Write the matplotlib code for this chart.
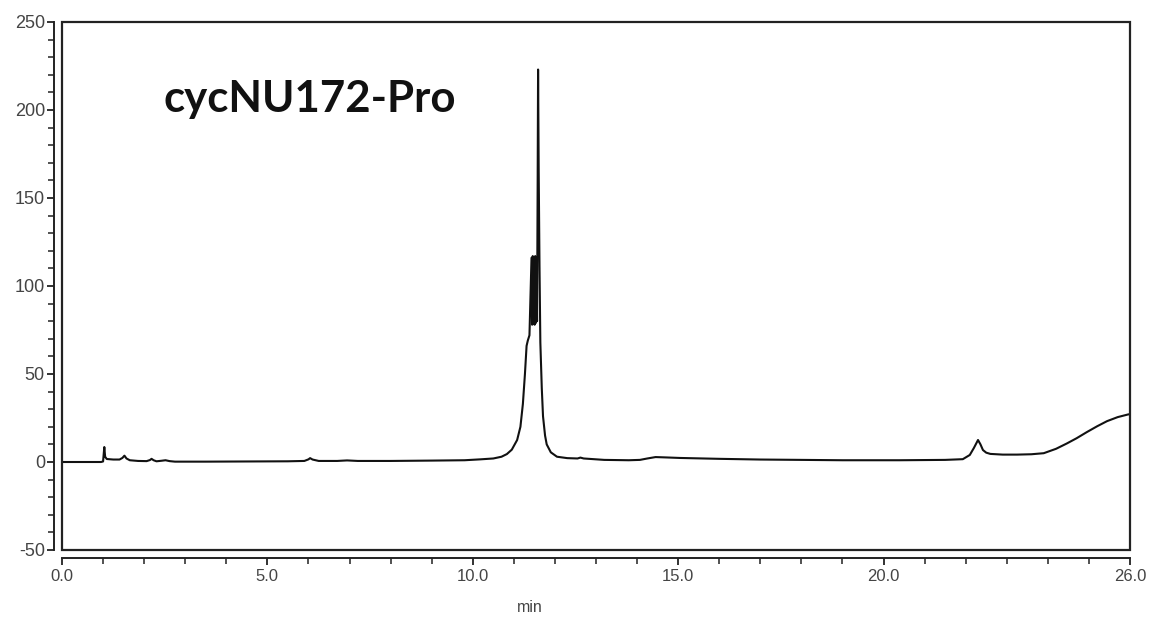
import matplotlib
matplotlib.use('Agg')
import matplotlib.pyplot as plt
from matplotlib.patches import Rectangle
from matplotlib.ticker import MultipleLocator

# retention time (min) and detector signal
time_min = [0.0, 0.95, 1.00, 1.03, 1.05, 1.09, 1.25, 1.40, 1.47, 1.52, 1.57, 1.65,
            1.85, 2.06, 2.14, 2.18, 2.23, 2.30, 2.42, 2.52, 2.62, 2.75, 3.5, 4.5,
            5.5, 5.90, 6.00, 6.04, 6.10, 6.25, 6.70, 6.94, 7.20, 8.0, 9.0, 9.8,
            10.18, 10.50, 10.70, 10.83, 10.95, 11.08, 11.16, 11.22, 11.27, 11.31,
            11.34, 11.38, 11.43, 11.445, 11.46, 11.475, 11.49, 11.505, 11.52, 11.535,
            11.55, 11.565, 11.58, 11.59, 11.605, 11.625, 11.645, 11.68, 11.71, 11.76,
            11.80, 11.90, 12.05, 12.30, 12.55, 12.62, 12.70, 13.2, 13.8, 14.07,
            14.25, 14.45, 14.70, 15.04, 16.0, 17.0, 18.0, 19.0, 20.4, 21.5, 21.93,
            22.10, 22.20, 22.30, 22.36, 22.42, 22.50, 22.60, 22.90, 23.25, 23.60,
            23.90, 24.20, 24.46, 24.70, 24.95, 25.20, 25.44, 25.70, 25.95, 26.0]
signal = [0.0, 0.0, 0.3, 8.5, 3.0, 1.7, 1.4, 1.4, 2.3, 3.6, 2.0, 1.0,
          0.6, 0.5, 1.1, 1.8, 1.0, 0.4, 0.7, 1.0, 0.5, 0.2, 0.2, 0.3,
          0.4, 0.6, 1.5, 2.2, 1.4, 0.6, 0.6, 0.9, 0.6, 0.6, 0.8, 1.0,
          1.5, 2.0, 3.0, 4.5, 7.0, 12.5, 20.0, 33.0, 50.0, 66.0,
          69.0, 72.0, 116.0, 78.0, 117.0, 79.0, 116.0, 78.0, 117.0, 79.0,
          116.0, 80.0, 160.0, 223.0, 165.0, 110.0, 68.0, 42.0, 26.0, 15.0,
          10.0, 5.5, 3.0, 2.2, 2.0, 2.5, 2.0, 1.2, 1.0, 1.2,
          2.0, 2.8, 2.6, 2.3, 1.8, 1.4, 1.2, 1.0, 1.0, 1.2, 1.6,
          4.0, 8.0, 12.5, 10.0, 6.8, 5.3, 4.6, 4.2, 4.2, 4.4,
          5.0, 7.5, 10.5, 13.5, 17.0, 20.3, 23.2, 25.5, 27.0, 27.2]

x_major = [0, 5, 10, 15, 20, 26]
x_labels = ['0.0', '5.0', '10.0', '15.0', '20.0', '26.0']
y_major = [-50, 0, 50, 100, 150, 200, 250]

plt.rcParams['font.family'] = ['Liberation Sans', 'DejaVu Sans']
plt.rcParams['axes.unicode_minus'] = False

fig = plt.figure(figsize=(11.55, 6.17), dpi=100)
ax = fig.add_axes([62/1155, 67/617, 1068/1155, 528/617])

ax.plot(time_min, signal, color='#111111', lw=1.5, solid_joinstyle='round')

ax.set_xlim(0, 26)
ax.set_ylim(-50, 250)

# box around the trace, axis lines pushed out from it
for side in ['top', 'right']:
    ax.spines[side].set_visible(False)
ax.spines['left'].set_position(('outward', 5.8))
ax.spines['bottom'].set_position(('outward', 5.8))
for side in ['left', 'bottom']:
    ax.spines[side].set_linewidth(1.4)
    ax.spines[side].set_color('#222222')
ax.add_patch(Rectangle((0, 0), 1, 1, transform=ax.transAxes, fill=False,
                       lw=1.6, edgecolor='#222222', clip_on=False, zorder=5))

ax.set_xticks(x_major)
ax.set_xticklabels(x_labels)
ax.xaxis.set_minor_locator(MultipleLocator(1))
ax.set_yticks(y_major)
ax.yaxis.set_minor_locator(MultipleLocator(10))

ax.tick_params(axis='both', which='major', length=5, width=1.3, color='#222222',
               labelcolor='#444444')
ax.tick_params(axis='x', which='major', labelsize=12, pad=3)
ax.tick_params(axis='y', which='major', labelsize=13, pad=1.5)
ax.tick_params(axis='both', which='minor', length=4, width=1.1, color='#222222')

ax.set_xlabel('min', fontsize=11.5, color='#444444')
ax.xaxis.set_label_coords(468/1068, -0.095)

ax.text(0.095, 0.855, 'cycNU172-Pro', transform=ax.transAxes, fontsize=31.5,
        fontweight='bold', family=['Lato', 'DejaVu Sans'], va='center', ha='left',
        color='#111111')

fig.savefig('out.png', dpi=100)
